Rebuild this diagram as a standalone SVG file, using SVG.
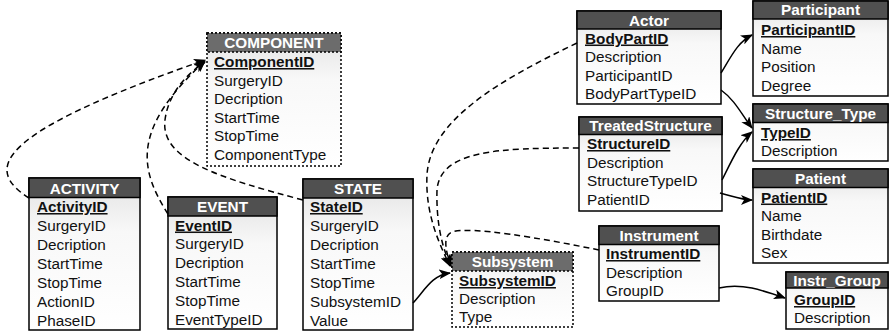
<svg xmlns="http://www.w3.org/2000/svg" width="889" height="332" viewBox="0 0 889 332">
<style>
.body{fill:url(#bg);stroke:#000;stroke-width:1.5}
.hd{fill:#505050;stroke:#000;stroke-width:1.5}
.dot .body{stroke-dasharray:2 2}
.dot .hd{fill:#6c6c6c;stroke-dasharray:2 2}
.ht{font-family:"Liberation Sans",Arial,sans-serif;font-size:15.3px;font-weight:bold;fill:#fff;text-anchor:middle}
.rt{font-family:"Liberation Sans",Arial,sans-serif;font-size:15.3px;fill:#111}
.pk{font-weight:bold;text-decoration:underline}
.c{fill:none;stroke:#000;stroke-width:1.5;marker-end:url(#ah)}
.d{stroke-dasharray:6 4}
</style>
<defs>
<linearGradient id="bg" x1="0" y1="0" x2="0" y2="1">
<stop offset="0" stop-color="#e2e2e2"/>
<stop offset="0.35" stop-color="#f8f8f8"/>
<stop offset="1" stop-color="#ffffff"/>
</linearGradient>
<marker id="ah" viewBox="0 0 12 10" refX="11" refY="5" markerWidth="12" markerHeight="10" markerUnits="userSpaceOnUse" orient="auto">
<path d="M0,0 L12,5 L0,10 L3,5 z" fill="#000"/>
</marker>
</defs>

<g id="COMPONENT" class="dot">
<rect class="body" x="207" y="33" width="134" height="133"/>
<rect class="hd" x="207" y="33" width="134" height="19"/>
<text class="ht" x="274" y="48">COMPONENT</text>
<text class="rt pk" x="214" y="67">ComponentID</text>
<text class="rt" x="214" y="85.6">SurgeryID</text>
<text class="rt" x="214" y="104.2">Decription</text>
<text class="rt" x="214" y="122.8">StartTime</text>
<text class="rt" x="214" y="141.4">StopTime</text>
<text class="rt" x="214" y="160">ComponentType</text>
</g>

<g id="ACTIVITY">
<rect class="body" x="29" y="178" width="111" height="152"/>
<rect class="hd" x="29" y="178" width="111" height="19.5"/>
<text class="ht" x="84.5" y="193.5">ACTIVITY</text>
<text class="rt pk" x="37" y="212">ActivityID</text>
<text class="rt" x="37" y="231">SurgeryID</text>
<text class="rt" x="37" y="250">Decription</text>
<text class="rt" x="37" y="269">StartTime</text>
<text class="rt" x="37" y="288">StopTime</text>
<text class="rt" x="37" y="307">ActionID</text>
<text class="rt" x="37" y="326">PhaseID</text>
</g>

<g id="EVENT">
<rect class="body" x="168" y="197" width="109" height="132"/>
<rect class="hd" x="168" y="197" width="109" height="19"/>
<text class="ht" x="222.5" y="212">EVENT</text>
<text class="rt pk" x="175" y="230.5">EventID</text>
<text class="rt" x="175" y="249.4">SurgeryID</text>
<text class="rt" x="175" y="268.3">Decription</text>
<text class="rt" x="175" y="287.2">StartTime</text>
<text class="rt" x="175" y="306.1">StopTime</text>
<text class="rt" x="175" y="325">EventTypeID</text>
</g>

<g id="STATE">
<rect class="body" x="303" y="179" width="110" height="151"/>
<rect class="hd" x="303" y="179" width="110" height="19"/>
<text class="ht" x="358" y="194">STATE</text>
<text class="rt pk" x="310" y="212">StateID</text>
<text class="rt" x="310" y="231">SurgeryID</text>
<text class="rt" x="310" y="250">Decription</text>
<text class="rt" x="310" y="269">StartTime</text>
<text class="rt" x="310" y="288">StopTime</text>
<text class="rt" x="310" y="307">SubsystemID</text>
<text class="rt" x="310" y="326">Value</text>
</g>

<g id="Subsystem" class="dot">
<rect class="body" x="452" y="252" width="121" height="75"/>
<rect class="hd" x="452" y="252" width="121" height="19"/>
<text class="ht" x="512.5" y="267">Subsystem</text>
<text class="rt pk" x="459" y="286">SubsystemID</text>
<text class="rt" x="459" y="304">Description</text>
<text class="rt" x="459" y="322">Type</text>
</g>

<g id="Actor">
<rect class="body" x="577" y="11" width="144" height="93"/>
<rect class="hd" x="577" y="11" width="144" height="18"/>
<text class="ht" x="649" y="25.5">Actor</text>
<text class="rt pk" x="585" y="43.5">BodyPartID</text>
<text class="rt" x="585" y="62.2">Description</text>
<text class="rt" x="585" y="80.9">ParticipantID</text>
<text class="rt" x="585" y="99.4">BodyPartTypeID</text>
</g>

<g id="Participant">
<rect class="body" x="753" y="1" width="135" height="95"/>
<rect class="hd" x="753" y="1" width="135" height="18"/>
<text class="ht" x="820.5" y="15">Participant</text>
<text class="rt pk" x="761" y="35">ParticipantID</text>
<text class="rt" x="761" y="53.5">Name</text>
<text class="rt" x="761" y="72">Position</text>
<text class="rt" x="761" y="90.5">Degree</text>
</g>

<g id="Structure_Type">
<rect class="body" x="753" y="104" width="135" height="57"/>
<rect class="hd" x="753" y="104" width="135" height="18.5"/>
<text class="ht" x="820.5" y="118.5">Structure_Type</text>
<text class="rt pk" x="761" y="138">TypeID</text>
<text class="rt" x="761" y="156">Description</text>
</g>

<g id="TreatedStructure">
<rect class="body" x="579" y="117" width="143" height="94"/>
<rect class="hd" x="579" y="117" width="143" height="17.5"/>
<text class="ht" x="650.5" y="131">TreatedStructure</text>
<text class="rt pk" x="587" y="149">StructureID</text>
<text class="rt" x="587" y="167.5">Description</text>
<text class="rt" x="587" y="186">StructureTypeID</text>
<text class="rt" x="587" y="204.5">PatientID</text>
</g>

<g id="Patient">
<rect class="body" x="753" y="169" width="135" height="94"/>
<rect class="hd" x="753" y="169" width="135" height="18.5"/>
<text class="ht" x="820.5" y="183.5">Patient</text>
<text class="rt pk" x="761" y="202.5">PatientID</text>
<text class="rt" x="761" y="221.2">Name</text>
<text class="rt" x="761" y="239.8">Birthdate</text>
<text class="rt" x="761" y="258.3">Sex</text>
</g>

<g id="Instrument">
<rect class="body" x="599" y="226" width="120" height="75"/>
<rect class="hd" x="599" y="226" width="120" height="18.5"/>
<text class="ht" x="659" y="240.5">Instrument</text>
<text class="rt pk" x="606" y="259">InstrumentID</text>
<text class="rt" x="606" y="277.5">Description</text>
<text class="rt" x="606" y="296">GroupID</text>
</g>

<g id="Instr_Group">
<rect class="body" x="786" y="272" width="102" height="57"/>
<rect class="hd" x="786" y="272" width="102" height="16"/>
<text class="ht" x="837" y="285.5">Instr_Group</text>
<text class="rt pk" x="794" y="305">GroupID</text>
<text class="rt" x="794" y="323">Description</text>
</g>

<g id="connectors">
<path class="c d" d="M29,198 C-15,170 -10,135 205,60"/>
<path class="c d" d="M168,214 C140,170 130,130 205,61"/>
<path class="c d" d="M303,200 C220,178 160,160 165,120 C168,95 185,75 205,62"/>
<path class="c d" d="M577,43 C500,80 430,120 427,175 C425,215 440,245 450,266"/>
<path class="c d" d="M579,148 C500,148 440,150 437,190 C436,225 443,250 451,266"/>
<path class="c d" d="M599,250 C540,238 470,226 452,232 C442,236 446,252 451,266"/>
<path class="c" d="M413,303 C425,290 432,275 450,273"/>
<path class="c" d="M721,73 C732,55 738,42 752,35"/>
<path class="c" d="M721,90 C735,100 742,115 752,128"/>
<path class="c" d="M722,180 C732,160 740,142 752,132"/>
<path class="c" d="M720,193 C735,197 742,200 752,200"/>
<path class="c" d="M719,288 C742,283 762,290 785,298"/>
</g>
</svg>
